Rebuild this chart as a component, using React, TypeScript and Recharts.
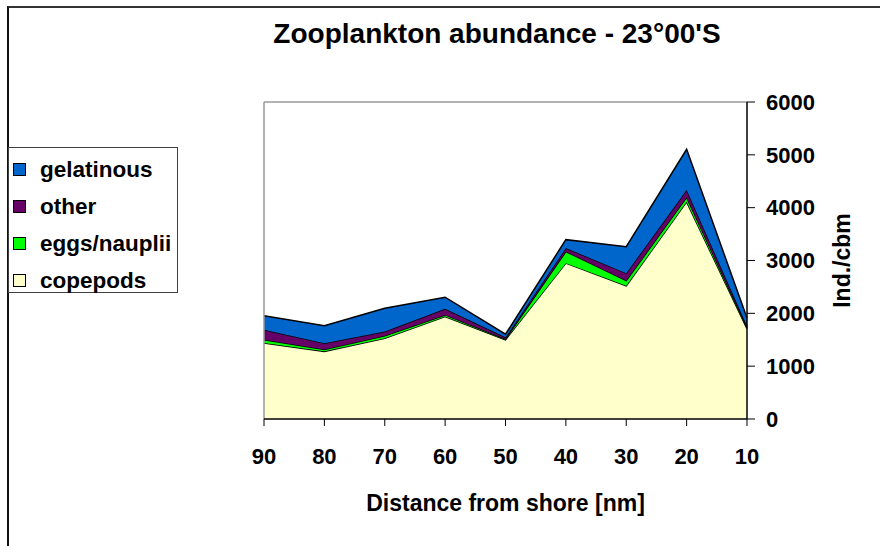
import { AreaChart, Area, XAxis, YAxis, ReferenceLine } from "recharts";

const FONT = '"Liberation Sans", Arial, sans-serif';

const distances = ["90", "80", "70", "60", "50", "40", "30", "20", "10"];
const copepods = [1440, 1280, 1530, 1940, 1500, 2950, 2520, 4110, 1710];
const eggsNauplii = [60, 35, 45, 30, 15, 220, 100, 85, 20];
const other = [190, 120, 80, 115, 30, 65, 140, 140, 30];
const gelatinous = [265, 330, 440, 220, 60, 160, 500, 770, 150];
const yTicks = [0, 1000, 2000, 3000, 4000, 5000, 6000];

const SERIES = [
  { key: "copepods", color: "#FFFFCC" },
  { key: "eggs/nauplii", color: "#00FF00" },
  { key: "other", color: "#660066" },
  { key: "gelatinous", color: "#0066CC" },
];

const data = distances.map((d, i) => ({
  dist: d,
  copepods: copepods[i],
  "eggs/nauplii": eggsNauplii[i],
  other: other[i],
  gelatinous: gelatinous[i],
}));

const tickStyle = { fontSize: 22, fontWeight: 700, fill: "#000", fontFamily: FONT };

function LegendBox() {
  const items = [...SERIES].reverse();
  return (
    <div
      style={{
        position: "absolute",
        left: 8,
        top: 147,
        width: 170,
        height: 146,
        border: "1px solid #404040",
        boxSizing: "border-box",
        background: "#fff",
        paddingTop: 3,
        fontFamily: FONT,
      }}
    >
      {items.map((s) => (
        <div
          key={s.key}
          style={{ display: "flex", alignItems: "center", height: 37 }}
        >
          <span
            style={{
              display: "inline-block",
              width: 11,
              height: 11,
              marginLeft: 4,
              marginRight: 14,
              background: s.color,
              border: "1px solid #000",
            }}
          />
          <span style={{ fontSize: 22.5, fontWeight: 700, color: "#000" }}>
            {s.key}
          </span>
        </div>
      ))}
    </div>
  );
}

export default function App() {
  return (
    <div
      style={{
        position: "absolute",
        left: 0,
        top: 0,
        width: 880,
        height: 546,
        background: "#fff",
      }}
    >
      <div
        style={{
          position: "absolute",
          left: 7,
          top: 6,
          right: 0,
          bottom: 0,
          borderTop: "2px solid #333",
          borderLeft: "2px solid #111",
        }}
      />
      <AreaChart
        width={880}
        height={546}
        data={data}
        margin={{ top: 102, right: 0, left: 264, bottom: 0 }}
        style={{ position: "absolute", left: 0, top: 0 }}
      >
        <XAxis
          dataKey="dist"
          height={127}
          tickSize={7}
          tickMargin={22}
          tick={tickStyle}
          axisLine={{ stroke: "#000", strokeWidth: 1.5 }}
          tickLine={{ stroke: "#000" }}
          interval={0}
          label={{
            content: ({ viewBox }: any) => (
              <text
                x={viewBox.x + viewBox.width / 2}
                y={503}
                textAnchor="middle"
                dominantBaseline="central"
                fontFamily={FONT}
                fontWeight={700}
                fontSize={23}
                fill="#000"
              >
                Distance from shore [nm]
              </text>
            ),
          }}
        />
        <YAxis
          orientation="right"
          width={133}
          domain={[0, 6000]}
          ticks={yTicks}
          interval={0}
          tickSize={8}
          tickMargin={11}
          tick={tickStyle}
          axisLine={{ stroke: "#000", strokeWidth: 1.5 }}
          tickLine={{ stroke: "#000" }}
          label={{
            content: ({ viewBox }: any) => (
              <text
                x={842}
                y={viewBox.y + viewBox.height / 2}
                textAnchor="middle"
                dominantBaseline="central"
                transform={`rotate(-90 842 ${viewBox.y + viewBox.height / 2})`}
                fontFamily={FONT}
                fontWeight={700}
                fontSize={23}
                fill="#000"
              >
                Ind./cbm
              </text>
            ),
          }}
        />
        <ReferenceLine y={6000} stroke="#999" strokeWidth={1.5} />
        <ReferenceLine x="90" stroke="#999" strokeWidth={1.5} />
        {SERIES.map((s) => (
          <Area
            key={s.key}
            type="linear"
            dataKey={s.key}
            stackId="a"
            fill={s.color}
            fillOpacity={1}
            stroke="#000"
            strokeWidth={1.5}
            isAnimationActive={false}
            dot={false}
            activeDot={false}
          />
        ))}
      </AreaChart>
      <div
        style={{
          position: "absolute",
          left: 0,
          top: 18,
          width: 994,
          textAlign: "center",
          fontFamily: FONT,
          fontWeight: 700,
          fontSize: 28,
          color: "#000",
        }}
      >
        Zooplankton abundance - 23°00'S
      </div>
      <LegendBox />
    </div>
  );
}
